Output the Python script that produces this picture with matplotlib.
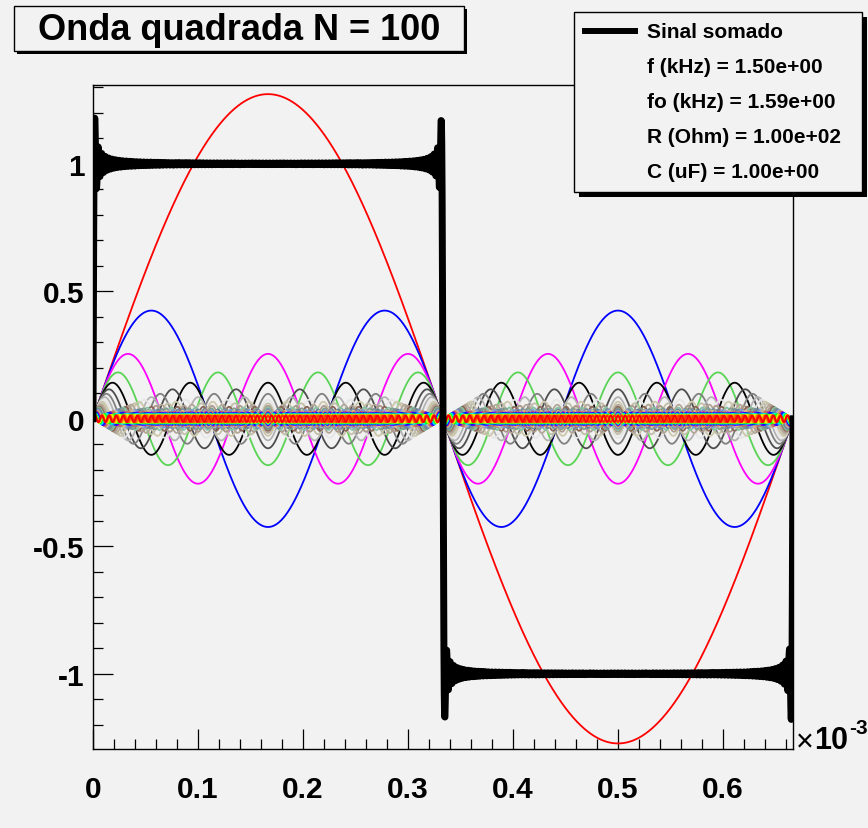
import colorsys
import numpy as np
import matplotlib
matplotlib.use("Agg")
import matplotlib.pyplot as plt
from matplotlib.patches import Rectangle
from matplotlib.lines import Line2D
from matplotlib.ticker import MultipleLocator, FuncFormatter

# parameters shown in the legend
f_khz = 1.5
fo_khz = 1.59
r_ohm = 100.0
c_uf = 1.0
n_terms = 100

# amplitude of the odd harmonics n = 1, 3, 5, ..., 199
odd_amplitudes = [
    1.2732, 0.4244, 0.2546, 0.1819, 0.1415, 0.1157, 0.0979, 0.0849, 0.0749, 0.0670,
    0.0606, 0.0554, 0.0509, 0.0472, 0.0439, 0.0411, 0.0386, 0.0364, 0.0344, 0.0326,
    0.0311, 0.0296, 0.0283, 0.0271, 0.0260, 0.0250, 0.0240, 0.0231, 0.0223, 0.0216,
    0.0209, 0.0202, 0.0196, 0.0190, 0.0185, 0.0179, 0.0174, 0.0170, 0.0165, 0.0161,
    0.0157, 0.0153, 0.0150, 0.0146, 0.0143, 0.0140, 0.0137, 0.0134, 0.0131, 0.0129,
    0.0126, 0.0124, 0.0121, 0.0119, 0.0117, 0.0115, 0.0113, 0.0111, 0.0109, 0.0107,
    0.0105, 0.0104, 0.0102, 0.0100, 0.0099, 0.0097, 0.0096, 0.0094, 0.0093, 0.0092,
    0.0090, 0.0089, 0.0088, 0.0087, 0.0085, 0.0084, 0.0083, 0.0082, 0.0081, 0.0080,
    0.0079, 0.0078, 0.0077, 0.0076, 0.0075, 0.0074, 0.0074, 0.0073, 0.0072, 0.0071,
    0.0070, 0.0070, 0.0069, 0.0068, 0.0067, 0.0067, 0.0066, 0.0065, 0.0065, 0.0064,
]

x_ticks = [0, 0.1, 0.2, 0.3, 0.4, 0.5, 0.6]
y_ticks = [-1, -0.5, 0, 0.5, 1]
title_text = "Onda quadrada N = 100"
legend_lines = [
    "Sinal somado",
    "f (kHz) = %.2e" % f_khz,
    "fo (kHz) = %.2e" % fo_khz,
    "R (Ohm) = %.2e" % r_ohm,
    "C (uF) = %.2e" % c_uf,
]

BG = "#f2f2f2"
FONT = ["Liberation Sans", "DejaVu Sans"]

# old ROOT colour table, indices 1..50
root_table = {
    1: (0, 0, 0), 2: (1, 0, 0), 3: (0, 1, 0), 4: (0, 0, 1), 5: (1, 1, 0),
    6: (1, 0, 1), 7: (0, 1, 1), 8: (0.35, 0.83, 0.33), 9: (0.35, 0.33, 0.85),
    10: (0, 0, 0), 11: (0.75, 0.72, 0.68), 12: (0.3, 0.3, 0.3), 13: (0.4, 0.4, 0.4),
    14: (0.5, 0.5, 0.5), 15: (0.6, 0.6, 0.6), 16: (0.7, 0.7, 0.7), 17: (0.8, 0.8, 0.8),
    18: (0.9, 0.9, 0.9), 19: (0.95, 0.95, 0.95), 20: (0.8, 0.78, 0.67),
    21: (0.8, 0.78, 0.67), 22: (0.76, 0.75, 0.66), 23: (0.73, 0.71, 0.64),
    24: (0.7, 0.65, 0.59), 25: (0.72, 0.64, 0.61), 26: (0.68, 0.6, 0.55),
    27: (0.61, 0.56, 0.51), 28: (0.53, 0.4, 0.34), 29: (0.69, 0.81, 0.78),
    30: (0.52, 0.76, 0.64), 31: (0.54, 0.66, 0.63), 32: (0.51, 0.62, 0.55),
    33: (0.68, 0.74, 0.78), 34: (0.48, 0.56, 0.6), 35: (0.46, 0.54, 0.57),
    36: (0.41, 0.51, 0.59), 37: (0.43, 0.48, 0.52), 38: (0.49, 0.6, 0.82),
    39: (0.5, 0.5, 0.63), 40: (0.67, 0.65, 0.75), 41: (0.83, 0.81, 0.53),
    42: (0.87, 0.73, 0.53), 43: (0.74, 0.62, 0.51), 44: (0.78, 0.6, 0.49),
    45: (0.75, 0.51, 0.47), 46: (0.81, 0.37, 0.38), 47: (0.67, 0.56, 0.58),
    48: (0.65, 0.47, 0.48), 49: (0.58, 0.41, 0.44), 50: (0.83, 0.35, 0.33),
}


def harmonic_color(idx):
    if idx in root_table:
        return root_table[idx]
    if idx > 100:
        return None  # no colour defined beyond the spectrum: not drawn
    # violet -> red spectrum for 51..100
    hue = 280 - (idx - 50) * 280 / 50
    return colorsys.hls_to_rgb(hue / 360.0, 0.5, 1.0)


fig = plt.figure(figsize=(8.68, 8.29), dpi=100, facecolor=BG)
W, H = 868, 829
ax = fig.add_axes([93 / W, 1 - 750 / H, 700 / W, 664 / H], facecolor=BG)

t_ms = np.linspace(0, 1 / f_khz, 2000)
total = np.zeros_like(t_ms)
for k, amp in enumerate(odd_amplitudes[:n_terms]):
    n = 2 * k + 1
    y = amp * np.sin(2 * np.pi * n * f_khz * t_ms)
    total += y
    col = harmonic_color(n + 1)
    if col is not None:
        ax.plot(t_ms, y, color=col, lw=1.3, zorder=2)

ax.plot(t_ms, total, color="black", lw=5.0, zorder=3)

ax.set_xlim(0, 1 / f_khz)
ax.set_ylim(-1.295, 1.309)
ax.set_xticks(x_ticks)
ax.set_yticks(y_ticks)
ax.xaxis.set_minor_locator(MultipleLocator(0.02))
ax.yaxis.set_minor_locator(MultipleLocator(0.1))
ax.xaxis.set_major_formatter(FuncFormatter(lambda v, p: ("%g" % v)))
ax.yaxis.set_major_formatter(FuncFormatter(lambda v, p: ("%g" % v)))
ax.tick_params(which="both", direction="in", top=False, right=False, width=0.9, color="black")
ax.tick_params(which="major", length=14.5)
ax.tick_params(which="minor", length=7.5)
ax.tick_params(axis="x", which="major", pad=19)
ax.tick_params(axis="y", which="major", pad=6)
for lab in ax.get_xticklabels() + ax.get_yticklabels():
    lab.set_fontfamily(FONT)
    lab.set_fontweight("bold")
    lab.set_fontsize(21.5)
for sp in ax.spines.values():
    sp.set_linewidth(1.0)
    sp.set_color("black")

# x10^-3 exponent label
fig.text(796 / W, 1 - 743 / H, "\u00d7", fontsize=22, family=FONT, va="center", ha="left")
fig.text(814 / W, 1 - 741 / H, "10", fontsize=22, family=FONT, weight="bold",
         va="center", ha="left")
fig.text(849 / W, 1 - 729 / H, "-3", fontsize=15, family=FONT, weight="bold",
         va="center", ha="left")


def framed_box(x0, y0, x1, y1, shadow):
    # shadow first, then the box itself (pixel coords from top-left)
    fig.add_artist(Rectangle(((x0 + shadow) / W, 1 - (y1 + shadow) / H),
                             (x1 - x0) / W, (y1 - y0) / H, transform=fig.transFigure,
                             facecolor="black", edgecolor="none", zorder=20))
    fig.add_artist(Rectangle((x0 / W, 1 - y1 / H), (x1 - x0) / W, (y1 - y0) / H,
                             transform=fig.transFigure, facecolor=BG, edgecolor="black",
                             lw=1.0, zorder=21))


# title box
framed_box(14, 7, 464, 52, 3)
fig.text(239 / W, 1 - 30 / H, title_text, fontsize=26, family=FONT, weight="bold",
         ha="center", va="center", zorder=22)

# legend box
framed_box(574, 13, 862, 193, 5)
fig.add_artist(Line2D([585 / W, 635 / W], [1 - 32 / H, 1 - 32 / H], transform=fig.transFigure,
                      color="black", lw=4.3, zorder=22))
for i, txt in enumerate(legend_lines):
    fig.text(647 / W, 1 - (32 + 35.2 * i) / H, txt, fontsize=15, family=FONT, weight="bold",
             ha="left", va="center", zorder=22)

fig.savefig("out.png", dpi=100, facecolor=BG)
